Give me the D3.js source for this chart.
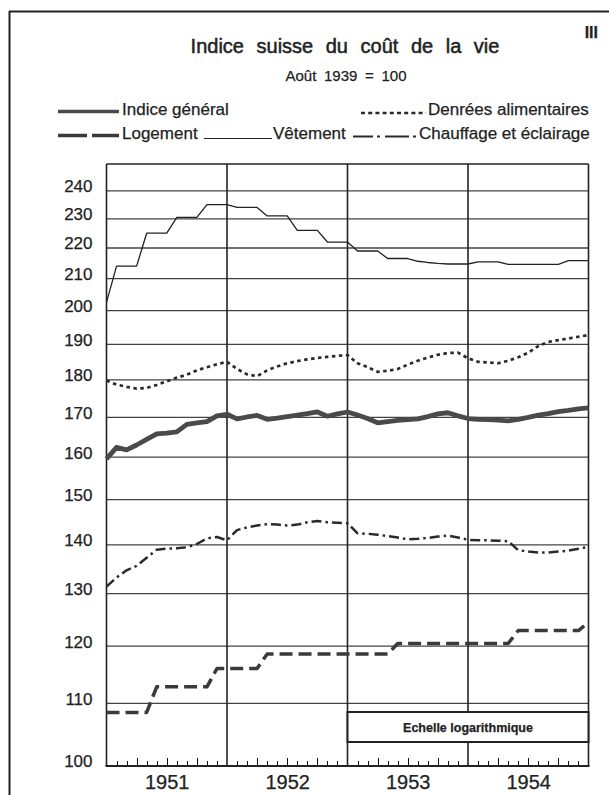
<!DOCTYPE html>
<html>
<head>
<meta charset="utf-8">
<script src="https://cdn.jsdelivr.net/npm/d3@7"></script>
<style>
  body { margin: 0; background: #fff; }
  svg text { font-family: "Liberation Sans", Arial, sans-serif; fill: #222; stroke: #222; stroke-width: 0.25px; }
</style>
</head>
<body>
<div id="chart"></div>
<script>
// month index 0 = Dec 1950 ... 48 = Dec 1954
const years = ["1951", "1952", "1953", "1954"];
const yTicks = [100, 110, 120, 130, 140, 150, 160, 170, 180, 190, 200, 210, 220, 230, 240];

const general = [159.6,162.4,161.8,163.0,164.4,165.8,166.0,166.3,168.2,168.6,168.9,170.4,170.8,
  169.6,170.1,170.5,169.5,169.8,170.2,170.6,171.0,171.4,170.3,170.9,171.4,
  170.6,169.7,168.6,168.9,169.2,169.4,169.6,170.2,170.9,171.2,170.4,169.7,
  169.5,169.4,169.3,169.1,169.5,170.0,170.6,171.0,171.5,171.8,172.2,172.5];

const food = [179.8,178.7,178.1,177.6,177.8,178.6,179.6,180.6,181.4,182.6,183.5,184.3,185.0,
  183.0,181.5,181.0,182.6,183.7,184.6,185.2,185.7,186.1,186.4,186.7,186.9,
  184.6,183.5,182.2,182.5,183.0,184.2,185.3,186.2,187.0,187.5,187.6,186.0,
  185.0,184.8,184.6,185.3,186.3,187.6,189.5,190.7,191.2,191.7,192.2,192.7];

const rent = [108.5,108.5,108.5,108.5,108.5,112.8,112.8,112.8,112.8,112.8,112.8,116.0,116.0,
  116.0,116.0,116.0,118.6,118.6,118.6,118.6,118.6,118.6,118.6,118.6,118.6,
  118.6,118.6,118.6,118.6,120.5,120.5,120.5,120.5,120.5,120.5,120.5,120.5,
  120.5,120.5,120.5,120.5,122.9,122.9,122.9,122.9,122.9,122.9,122.9,124.4];

const clothing = [202.5,214,214,214,225,225,225,230.5,230.5,230.5,235,235,235,
  234,234,234,231,231,231,226,226,226,222,222,222,
  219,219,219,216.5,216.5,216.5,215.6,215.2,214.9,214.7,214.7,214.7,
  215.4,215.4,215.4,214.6,214.6,214.6,214.6,214.6,214.6,215.8,215.8,215.8];

const heating = [131.4,133.2,134.7,135.6,137.3,139.0,139.2,139.3,139.5,140.2,141.4,141.7,141.0,
  143.2,143.8,144.2,144.5,144.4,144.2,144.4,144.9,145.2,144.9,144.8,144.7,
  142.5,142.4,142.2,141.9,141.6,141.2,141.3,141.5,141.8,142.0,141.6,141.1,
  141.0,141.0,140.9,140.8,138.9,138.6,138.4,138.4,138.6,138.8,139.2,139.6];

const W = 609, H = 795;
const plotL = 106.5, plotR = 588.5, plotT = 164, plotB = 766;

const svg = d3.select("#chart").append("svg")
  .attr("width", W).attr("height", H)
  .style("display", "block");

const x = d3.scaleLinear().domain([0, 48]).range([plotL, plotR]);
const y = d3.scaleLog().domain([100, 250]).range([plotB, plotT]);

// page frame (scan crop: left and top only)
svg.append("line").attr("x1", 9.5).attr("x2", 9.5).attr("y1", 11).attr("y2", H)
  .attr("stroke", "#222").attr("stroke-width", 2);
svg.append("line").attr("x1", 9).attr("x2", W).attr("y1", 11.5).attr("y2", 11.5)
  .attr("stroke", "#222").attr("stroke-width", 2);

svg.append("text").attr("x", 598).attr("y", 38).attr("text-anchor", "end")
  .style("font-size", "16px").style("font-weight", "bold").text("III");

svg.append("text").attr("x", 345).attr("y", 53).attr("text-anchor", "middle")
  .style("font-size", "20px").style("word-spacing", "7px").style("stroke-width", "0.5px")
  .text("Indice suisse du coût de la vie");
svg.append("text").attr("x", 346).attr("y", 81).attr("text-anchor", "middle")
  .style("font-size", "15px").style("word-spacing", "3.5px")
  .text("Août 1939 = 100");

// series styles
const series = [
  {name: "Indice général", values: general, width: 4.8, dash: null, color: "#4a4a4a"},
  {name: "Denrées alimentaires", values: food, width: 2.7, dash: "3.5,3.5", color: "#2a2a2a"},
  {name: "Logement", values: rent, width: 3.5, dash: "13,6", color: "#3a3a3a"},
  {name: "Vêtement", values: clothing, width: 1.3, dash: null, color: "#222"},
  {name: "Chauffage et éclairage", values: heating, width: 2.5, dash: "10,4,2.5,4", color: "#2a2a2a"}
];

// legend
const legend = svg.append("g").attr("class", "legend");
const legendItems = [
  {s: 0, x1: 58, x2: 119, ly: 111.5, tx: 122, ty: 114.5, dash: null, w: 3.6},
  {s: 1, x1: 361, x2: 426, ly: 113, tx: 428, ty: 114.5, dash: "4,3.2", w: 2.4},
  {s: 2, x1: 58, x2: 119, ly: 135.5, tx: 122, ty: 139, dash: "29,5", w: 3.4},
  {s: 3, x1: 204, x2: 272, ly: 138.5, tx: 273, ty: 139, dash: null, w: 1.2},
  {s: 4, x1: 353, x2: 418, ly: 136.5, tx: 419, ty: 139, dash: "20,4,3,5,24,4,3,5", w: 2.2}
];
legendItems.forEach(d => {
  legend.append("line")
    .attr("x1", d.x1).attr("x2", d.x2).attr("y1", d.ly).attr("y2", d.ly)
    .attr("stroke", series[d.s].color).attr("stroke-width", d.w)
    .attr("stroke-dasharray", d.dash);
  legend.append("text").attr("x", d.tx).attr("y", d.ty)
    .style("font-size", "17px").text(series[d.s].name);
});

// horizontal grid
svg.append("g").selectAll("line")
  .data(yTicks.filter(v => v > 100))
  .join("line")
  .attr("x1", plotL).attr("x2", plotR)
  .attr("y1", d => y(d)).attr("y2", d => y(d))
  .attr("stroke", "#444").attr("stroke-width", 1.3);

// year dividers + frame
svg.append("g").selectAll("line")
  .data(d3.range(0, 49, 12))
  .join("line")
  .attr("x1", d => x(d)).attr("x2", d => x(d))
  .attr("y1", plotT).attr("y2", plotB)
  .attr("stroke", "#222").attr("stroke-width", 1.6);
svg.append("line").attr("x1", plotL).attr("x2", plotR).attr("y1", plotT).attr("y2", plotT)
  .attr("stroke", "#222").attr("stroke-width", 1.6);
svg.append("line").attr("x1", plotL - 1).attr("x2", plotR + 1).attr("y1", plotB).attr("y2", plotB)
  .attr("stroke", "#222").attr("stroke-width", 2);

// y axis labels
const yAxis = svg.append("g")
  .attr("transform", `translate(${plotL},0)`)
  .call(d3.axisLeft(y).tickValues(yTicks).tickSize(0).tickPadding(14).tickFormat(d3.format("d")));
yAxis.select(".domain").remove();
yAxis.selectAll("text")
  .attr("dy", "0.05em")
  .style("font-size", "17px")
  .style("font-family", "\"Liberation Sans\", Arial, sans-serif");

// year labels
const yearAxis = svg.append("g")
  .attr("transform", `translate(0,${plotB})`)
  .call(d3.axisBottom(x).tickValues([6, 18, 30, 42]).tickSize(0).tickPadding(9)
    .tickFormat((d, i) => years[i]));
yearAxis.select(".domain").remove();
yearAxis.selectAll("text")
  .style("font-size", "20px")
  .style("font-family", "\"Liberation Sans\", Arial, sans-serif");

// log scale note box
svg.append("rect")
  .attr("x", x(24)).attr("y", 712).attr("width", x(48) - x(24)).attr("height", 30)
  .attr("fill", "#fff").attr("stroke", "#222").attr("stroke-width", 2);
svg.append("text").attr("x", (x(24) + x(48)) / 2).attr("y", 731.5)
  .attr("text-anchor", "middle").style("font-size", "12.5px").style("font-weight", "bold")
  .text("Echelle logarithmique");

// series lines
const lineGen = d3.line().x((d, i) => x(i)).y(d => y(d));
svg.append("g").selectAll("path")
  .data(series)
  .join("path")
  .attr("d", d => lineGen(d.values))
  .attr("fill", "none")
  .attr("stroke", d => d.color)
  .attr("stroke-width", d => d.width)
  .attr("stroke-dasharray", d => d.dash)
  .attr("stroke-linejoin", "round");

// month ticks pointing up (quarters longer), drawn last
const monthTicks = d3.range(1, 48).filter(m => m % 12 !== 0);
svg.append("g").attr("class", "month-ticks")
  .attr("shape-rendering", "crispEdges")
  .selectAll("line")
  .data(monthTicks)
  .join("line")
  .attr("x1", d => Math.round(x(d)) + 0.5)
  .attr("x2", d => Math.round(x(d)) + 0.5)
  .attr("y1", plotB - 1)
  .attr("y2", d => plotB - (d % 3 === 0 ? 8 : 5))
  .attr("stroke", "#111")
  .attr("stroke-width", 1.5);
</script>
</body>
</html>
